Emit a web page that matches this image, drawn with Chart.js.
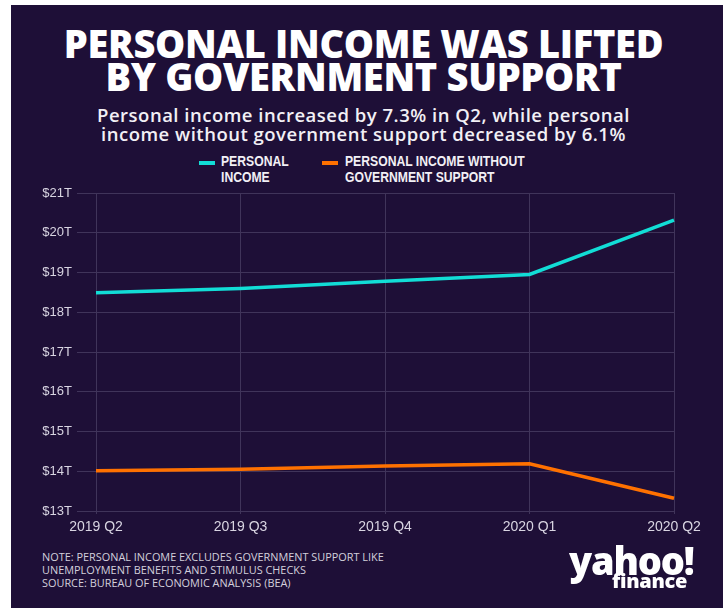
<!DOCTYPE html>
<html>
<head>
<meta charset="utf-8">
<script src="https://cdn.jsdelivr.net/npm/chart.js@4"></script>
<style>
  body { margin: 0; background: #fff; width: 727px; height: 611px; position: relative; overflow: hidden; }
  .panel { position: absolute; left: 11px; top: 5px; width: 712px; height: 603px; background: #1e0f37; }
  .abs { position: absolute; white-space: nowrap; }
  .title { left: 0; width: 727px; text-align: center; color: #fff; font-family: "Open Sans", sans-serif; font-weight: 800; font-size: 38px; line-height: 33px; top: 27px; letter-spacing: -0.3px; }
  .sub { left: 0; width: 727px; text-align: center; color: #f2f0f5; font-family: "Open Sans", sans-serif; font-weight: 600; font-size: 18.5px; line-height: 19px; top: 105px; letter-spacing: 0.5px; }
  .leg { font-family: "Liberation Sans", sans-serif; font-weight: bold; font-size: 14px; line-height: 16px; color: #f2f0f5; transform: scaleX(0.87); transform-origin: left top; }
  .sw { position: absolute; height: 4px; width: 16px; }
  .note { left: 42px; top: 550px; font-family: "Open Sans", sans-serif; font-size: 10.9px; line-height: 13px; color: #d3cfdc; }
  .logo { color: #fff; font-family: "Open Sans", sans-serif; font-weight: 800; }
  #wrap { position: absolute; left: 0; top: 180px; width: 727px; height: 360px; }
</style>
</head>
<body>
<div class="panel"></div>
<div class="abs title">PERSONAL INCOME WAS LIFTED<br>BY GOVERNMENT SUPPORT</div>
<div class="abs sub">Personal income increased by 7.3% in Q2, while personal<br>income without government support decreased by 6.1%</div>

<div class="sw" style="left:199px; top:161px; background:#12ddd6;"></div>
<div class="abs leg" style="left:221px; top:153px;">PERSONAL<br>INCOME</div>
<div class="sw" style="left:322px; top:161px; background:#ff7100;"></div>
<div class="abs leg" style="left:345px; top:153px;">PERSONAL INCOME WITHOUT<br>GOVERNMENT SUPPORT</div>

<div id="wrap"><canvas id="chart"></canvas></div>

<div class="abs note">NOTE: PERSONAL INCOME EXCLUDES GOVERNMENT SUPPORT LIKE<br>UNEMPLOYMENT BENEFITS AND STIMULUS CHECKS<br>SOURCE: BUREAU OF ECONOMIC ANALYSIS (BEA)</div>
<div class="abs logo" style="left:569px; top:534px; font-size:38px; letter-spacing:-1.2px;">yahoo!</div>
<div class="abs logo" style="left:612px; top:567px; font-size:20px; letter-spacing:-0.3px;">finance</div>

<script>
// quarters on the x axis
const quarters = ['2019 Q2', '2019 Q3', '2019 Q4', '2020 Q1', '2020 Q2'];
// trillions of dollars
const personalIncome = [18.49, 18.6, 18.78, 18.95, 20.32];
const incomeWithoutSupport = [14.01, 14.05, 14.13, 14.19, 13.32];
const yMin = 13;
const yMax = 21;

const gridColor = '#40345a';
const tickColor = '#d9d5e2';

new Chart(document.getElementById('chart'), {
  type: 'line',
  data: {
    labels: quarters,
    datasets: [
      {
        label: 'PERSONAL INCOME',
        data: personalIncome,
        borderColor: '#12ddd6',
        borderWidth: 3.5,
        pointRadius: 0,
        tension: 0,
      },
      {
        label: 'PERSONAL INCOME WITHOUT GOVERNMENT SUPPORT',
        data: incomeWithoutSupport,
        borderColor: '#ff7100',
        borderWidth: 3.5,
        pointRadius: 0,
        tension: 0,
      },
    ],
  },
  options: {
    responsive: true,
    maintainAspectRatio: false,
    animation: false,
    layout: { padding: { top: 13, right: 53, left: 0, bottom: 0 } },
    plugins: {
      legend: { display: false },
      tooltip: { enabled: false },
    },
    scales: {
      x: {
        grid: { color: gridColor, lineWidth: 1, tickLength: 3 },
        border: { color: gridColor },
        ticks: {
          color: tickColor,
          padding: 5,
          maxRotation: 0,
          font: { family: 'Liberation Sans', size: 14 },
        },
        afterFit: (scale) => { scale.height = 29; },
      },
      y: {
        min: yMin,
        max: yMax,
        grid: { color: gridColor, lineWidth: 1, tickLength: 19 },
        border: { color: gridColor },
        ticks: {
          stepSize: 1,
          color: tickColor,
          padding: 5,
          font: { family: 'Liberation Sans', size: 13 },
          callback: (v) => '$' + v + 'T',
        },
        afterFit: (scale) => { scale.width = 96; },
      },
    },
  },
});
</script>
</body>
</html>
